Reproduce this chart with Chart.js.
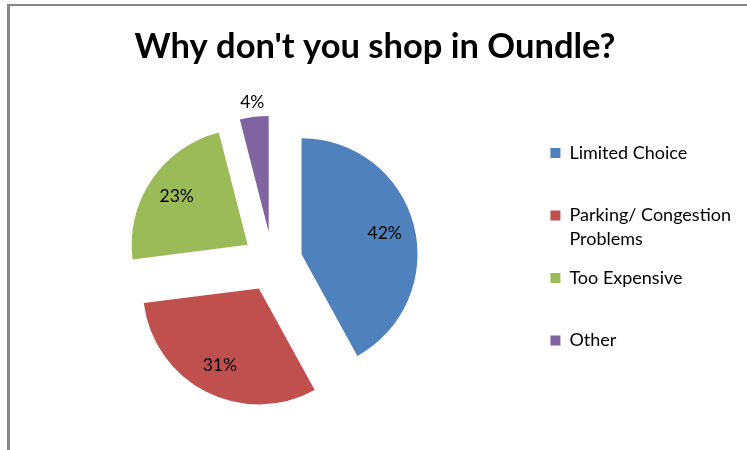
<!DOCTYPE html>
<html><head><meta charset="utf-8">
<script src="https://cdn.jsdelivr.net/npm/chart.js@4/dist/chart.umd.min.js"></script>
<style>
html,body{margin:0;padding:0;background:#fff;overflow:hidden;width:747px;height:450px;}
#frame{position:absolute;left:7px;top:4px;width:800px;height:500px;border-left:3px solid #878787;border-top:2px solid #878787;}
#wrap{position:absolute;left:0;top:0;width:760px;height:450px;}
</style></head><body>
<div id="frame"></div>
<div id="wrap"><canvas id="c" width="760" height="450"></canvas></div>
<script>
const chartTitle = "Why don't you shop in Oundle?";
const categories = ['Limited Choice', 'Parking/ Congestion Problems', 'Too Expensive', 'Other'];
const shares = [42, 31, 23, 4];
const sliceColors = ['#4F81BD', '#C0504D', '#9BBB59', '#8064A2'];

Chart.defaults.font.family = 'Lato, "Open Sans", sans-serif';
Chart.defaults.color = '#000';

function wrapLabel(text, maxChars, lines) {
  const words = String(text).split(' ');
  const out = [];
  let cur = '';
  words.forEach(w => {
    const t = cur ? cur + ' ' + w : w;
    if (t.length > maxChars && cur) { out.push(cur); cur = w; } else { cur = t; }
  });
  if (cur) out.push(cur);
  while (out.length < lines) out.push('');
  return out;
}

const explode = {
  id: 'explode',
  afterDatasetsUpdate(chart, args, opts) {
    chart.getSortedVisibleDatasetMetas().forEach(meta => {
      meta.data.forEach(arc => {
        const mid = (arc.startAngle + arc.endAngle) / 2;
        arc.x += Math.cos(mid) * opts.distance;
        arc.y += Math.sin(mid) * opts.distance;
      });
    });
  }
};

const pctLabels = {
  id: 'pctLabels',
  afterDatasetsDraw(chart, args, opts) {
    const ctx = chart.ctx;
    const meta = chart.getDatasetMeta(0);
    const data = chart.data.datasets[0].data;
    const total = data.reduce((a, b) => a + b, 0);
    ctx.save();
    ctx.font = opts.font;
    ctx.fillStyle = opts.color;
    ctx.textAlign = 'center';
    ctx.textBaseline = 'middle';
    meta.data.forEach((arc, i) => {
      const share = data[i] / total;
      const mid = (arc.startAngle + arc.endAngle) / 2;
      const r = arc.outerRadius * (share < 0.08 ? opts.outside : opts.inside);
      ctx.fillText(Math.round(share * 100) + '%', arc.x + Math.cos(mid) * r, arc.y + Math.sin(mid) * r);
    });
    ctx.restore();
  }
};

const baseGen = (Chart.overrides && Chart.overrides.pie && Chart.overrides.pie.plugins.legend.labels.generateLabels)
  || Chart.DoughnutController.overrides.plugins.legend.labels.generateLabels;

function build() {
  return new Chart(document.getElementById('c'), {
    type: 'pie',
    data: {
      labels: categories,
      datasets: [{
        data: shares,
        backgroundColor: sliceColors,
        borderWidth: 0,
        hoverOffset: 0
      }]
    },
    options: {
      responsive: false,
      animation: false,
      devicePixelRatio: 1,
      radius: 116,
      layout: { padding: { left: 9, right: 19, top: 0, bottom: 0 } },
      plugins: {
        title: {
          display: true,
          text: chartTitle,
          color: '#000',
          font: { family: 'Lato', size: 34.5, weight: 'bold' },
          padding: { top: 26, bottom: 6 }
        },
        legend: {
          position: 'right',
          align: 'center',
          fullSize: false,
          labels: {
            boxWidth: 10,
            boxHeight: 10,
            padding: 14.5,
            color: '#000',
            font: { family: 'Lato', size: 18, lineHeight: 24 / 18 },
            generateLabels(chart) {
              return baseGen(chart).map(item => {
                item.text = wrapLabel(item.text, 20, 2);
                return item;
              });
            }
          }
        },
        tooltip: { enabled: false },
        explode: { distance: 30 },
        pctLabels: { font: '17.5px Lato', color: '#000', inside: 0.74, outside: 1.13 }
      }
    },
    plugins: [explode, pctLabels]
  });
}

const fontsReady = document.fonts && document.fonts.load
  ? Promise.all([
      document.fonts.load('bold 34px Lato'),
      document.fonts.load('18px Lato')
    ]).catch(() => null)
  : Promise.resolve();
fontsReady.then(build);
</script>
</body></html>
